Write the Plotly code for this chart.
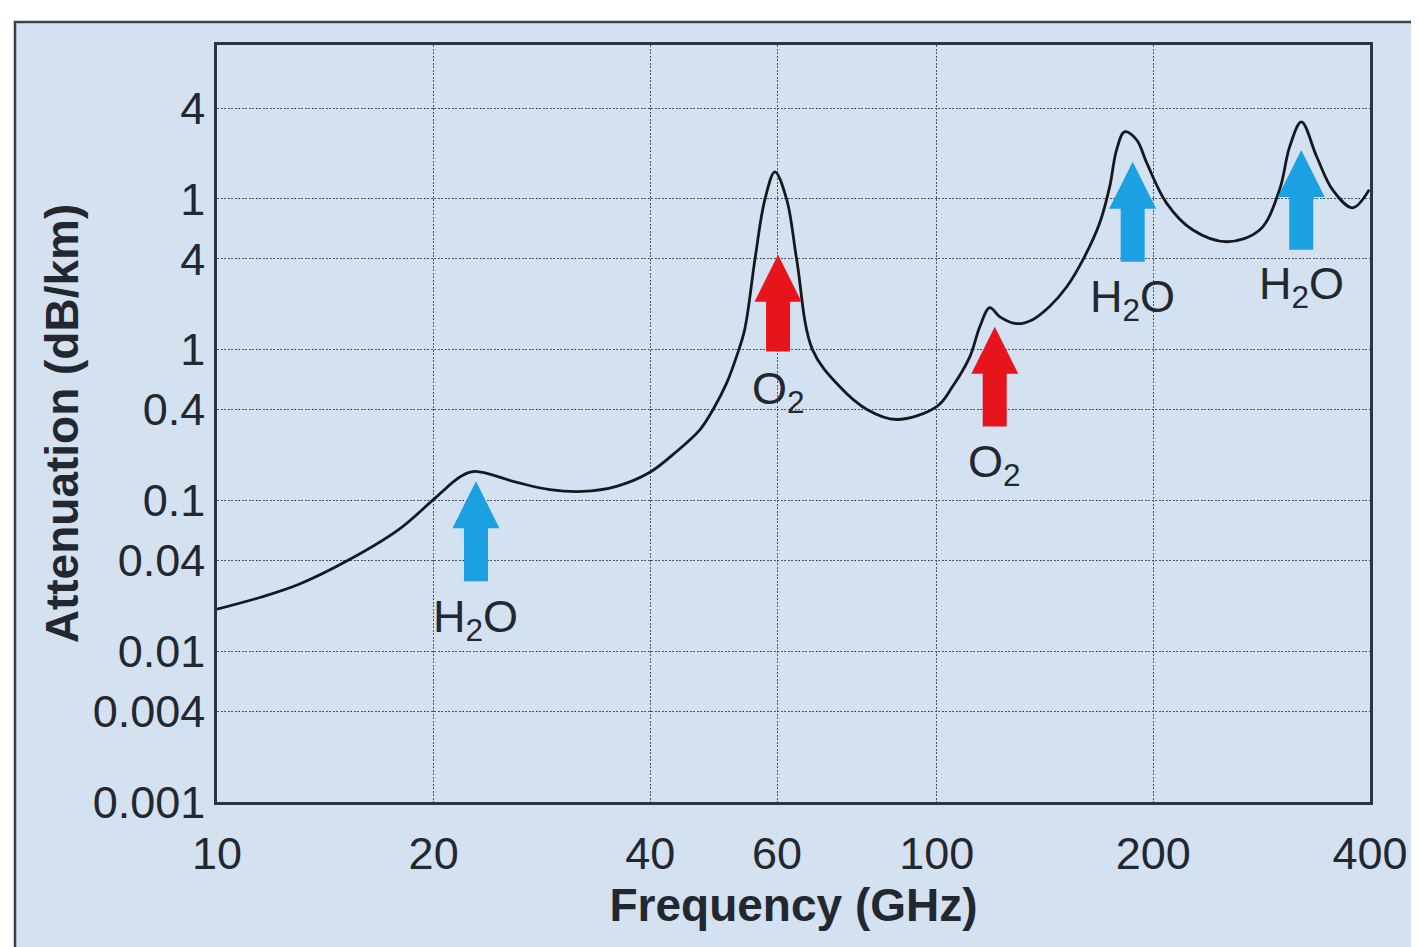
import numpy as np
import plotly.graph_objects as go

# ---- data: specific attenuation curve ----
freq_ghz = [10.0, 11.5, 13.0, 15.3, 17.9, 20.0, 21.8, 22.8, 26.1, 29.0, 32.2, 35.9, 39.9,
            43.5, 46.9, 48.9, 51.1, 52.7, 54.1, 55.9, 57.7, 59.6, 61.9, 63.9, 67.2, 73.3,
            80.0, 87.9, 100.0, 105.2, 111.2, 114.8, 118.5, 122.4, 129.2, 135.9, 143.5,
            151.6, 159.7, 168.5, 173.9, 177.8, 182.4, 189.6, 195.8, 208.5, 226.7, 252.9,
            281.2, 299.5, 309.3, 321.2, 337.3, 354.8, 378.3, 399.0]
atten_db_km = [0.0190, 0.0228, 0.0278, 0.0407, 0.0643, 0.1016, 0.144, 0.1556, 0.1316, 0.118,
               0.1147, 0.124, 0.153, 0.211, 0.295, 0.401, 0.604, 0.899, 1.357, 3.95, 9.85,
               15.1, 9.85, 3.95, 1.0, 0.569, 0.401, 0.344, 0.419, 0.569, 0.899, 1.42, 1.90,
               1.65, 1.486, 1.58, 1.93, 2.61, 3.95, 6.94, 12.0, 21.1, 27.8, 24.6, 17.3, 9.4,
               6.23, 5.19, 6.23, 11.5, 22.1, 32.4, 19.0, 11.5, 8.72, 11.5]

# ---- absorption-line markers ----
line_labels = ["H<sub>2</sub>O", "O<sub>2</sub>", "O<sub>2</sub>", "H<sub>2</sub>O", "H<sub>2</sub>O"]
line_freqs = [22.9, 60.2, 120.4, 187.2, 321.0]
arrow_tip_vals = [0.134, 4.26, 1.42, 17.6, 21.1]
arrow_base_vals = [0.0291, 0.97, 0.309, 3.83, 4.6]
label_vals = [0.0163, 0.53, 0.173, 2.14, 2.61]
line_colors = ["#1ba0e2", "#e8141c", "#e8141c", "#1ba0e2", "#1ba0e2"]

# ---- axis ticks ----
x_tickvals = [10, 20, 40, 60, 100, 200, 400]
x_ticktext = ["10", "20", "40", "60", "100", "200", "400"]
y_tickvals = [0.001, 0.004, 0.01, 0.04, 0.1, 0.4, 1, 4, 10, 40]
y_ticktext = ["0.001", "0.004", "0.01", "0.04", "0.1", "0.4", "1", "4", "1", "4"]

BG = "#d4e1f0"
FONT = "Liberation Sans, Arial, sans-serif"
TXT = "#23272f"
GRID = "#4a5464"
SHAFT_INSET_DEC = 0.20   # shaft ends inside the arrow head (in decades)

fig = go.Figure()
fig.add_trace(go.Scatter(
    x=freq_ghz, y=atten_db_km, mode="lines",
    line=dict(color="#15181d", width=2.8, shape="spline", smoothing=1.0),
    hoverinfo="skip", showlegend=False))

annotations = []
for lab, f, tip, base, lv, col in zip(line_labels, line_freqs, arrow_tip_vals,
                                      arrow_base_vals, label_vals, line_colors):
    shaft_top = tip / 10 ** SHAFT_INSET_DEC
    fig.add_trace(go.Scatter(
        x=[f, f], y=[base, shaft_top], mode="lines",
        line=dict(color=col, width=24), hoverinfo="skip", showlegend=False))
    fig.add_trace(go.Scatter(
        x=[f], y=[tip], mode="markers",
        marker=dict(symbol="arrow-up", size=47, color=col, line=dict(width=0)),
        hoverinfo="skip", showlegend=False))
    annotations.append(dict(
        x=np.log10(f), y=np.log10(lv), xref="x", yref="y", text=lab, showarrow=False,
        font=dict(family=FONT, size=45, color=TXT), xanchor="center", yanchor="middle"))

fig.update_layout(
    width=1411, height=939,
    margin=dict(l=209, r=49, t=37, b=145, autoexpand=False),
    paper_bgcolor="white", plot_bgcolor=BG,
    font=dict(family=FONT, color=TXT),
    annotations=annotations,
    shapes=[dict(type="rect", xref="paper", yref="paper",
                 x0=-0.1752, x1=1.3, y0=-0.4, y1=1.0304,
                 fillcolor=BG, line=dict(color="#39424f", width=2.5), layer="below")],
)
fig.update_xaxes(
    type="log", range=[1, np.log10(400)], tickvals=x_tickvals, ticktext=x_ticktext,
    tickfont=dict(size=45, family=FONT, color=TXT), ticks="", ticklabelstandoff=10,
    showgrid=True, gridcolor=GRID, gridwidth=1.3, griddash="2px,1.5px",
    showline=True, mirror=True, linecolor="#2b3440", linewidth=2.5, zeroline=False,
    title=dict(text="<b>Frequency (GHz)</b>", font=dict(size=46, family=FONT, color=TXT), standoff=2),
    automargin=False)
fig.update_yaxes(
    type="log", range=[-3, 2.02], tickvals=y_tickvals, ticktext=y_ticktext,
    tickfont=dict(size=45, family=FONT, color=TXT), ticks="", ticklabelstandoff=0,
    showgrid=True, gridcolor=GRID, gridwidth=1.3, griddash="2px,1.5px",
    showline=True, mirror=True, linecolor="#2b3440", linewidth=2.5, zeroline=False,
    title=dict(text="<b>Attenuation (dB/km)</b>", font=dict(size=46, family=FONT, color=TXT), standoff=0),
    automargin=False)

fig.write_html("out.html")
